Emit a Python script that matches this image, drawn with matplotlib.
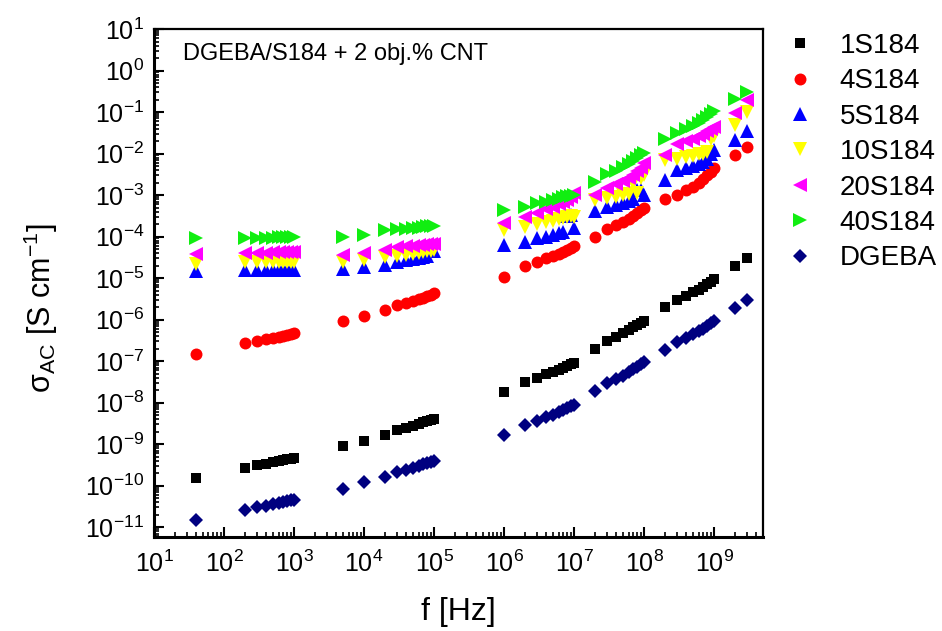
import matplotlib
matplotlib.use('Agg')
import matplotlib.pyplot as plt
from matplotlib.ticker import LogLocator, NullFormatter

plt.rcParams['font.family'] = ['Liberation Sans', 'DejaVu Sans']
plt.rcParams['mathtext.fontset'] = 'custom'
plt.rcParams['mathtext.rm'] = 'Liberation Sans'
plt.rcParams['mathtext.it'] = 'Liberation Sans:italic'

# Frequencies [Hz]
freq = [40, 200, 300, 400, 500, 600, 700, 800, 900, 1e3,
        5e3, 1e4,
        2e4, 3e4, 4e4, 5e4, 6e4, 7e4, 8e4, 9e4, 1e5,
        1e6, 2e6, 3e6, 4e6, 5e6, 6e6, 7e6, 8e6, 9e6, 1e7,
        2e7, 3e7, 4e7, 5e7, 6e7, 7e7, 8e7, 9e7, 1e8,
        2e8, 3e8, 4e8, 5e8, 6e8, 7e8, 8e8, 9e8, 1e9,
        2e9, 3e9]

# sigma_AC [S/cm]
s1 = [1.5e-10, 2.6e-10, 3.1e-10, 3.4e-10, 3.7e-10, 3.9e-10, 4.1e-10, 4.3e-10, 4.5e-10, 4.7e-10,
      9.0e-10, 1.2e-9,
      1.65e-9, 2.2e-9, 2.5e-9, 2.8e-9, 3.1e-9, 3.4e-9, 3.7e-9, 3.9e-9, 4.1e-9,
      1.8e-8, 3.2e-8, 4.0e-8, 4.8e-8, 5.5e-8, 6.2e-8, 7.0e-8, 7.7e-8, 8.4e-8, 9.0e-8,
      2.0e-7, 3.1e-7, 3.9e-7, 4.7e-7, 5.5e-7, 6.5e-7, 7.5e-7, 8.5e-7, 9.5e-7,
      2.0e-6, 3.0e-6, 3.7e-6, 4.5e-6, 5.3e-6, 6.2e-6, 7.2e-6, 8.2e-6, 9.5e-6,
      2.0e-5, 3.0e-5]
s4 = [1.5e-7, 2.7e-7, 3.1e-7, 3.4e-7, 3.7e-7, 3.9e-7, 4.1e-7, 4.3e-7, 4.5e-7, 4.7e-7,
      9.3e-7, 1.2e-6,
      1.7e-6, 2.2e-6, 2.5e-6, 2.8e-6, 3.1e-6, 3.4e-6, 3.7e-6, 4.0e-6, 4.3e-6,
      1.05e-5, 2.0e-5, 2.5e-5, 3.0e-5, 3.4e-5, 3.8e-5, 4.3e-5, 4.8e-5, 5.3e-5, 6.0e-5,
      1.0e-4, 1.5e-4, 1.9e-4, 2.3e-4, 2.7e-4, 3.2e-4, 3.8e-4, 4.4e-4, 5.0e-4,
      8.0e-4, 1.0e-3, 1.3e-3, 1.6e-3, 2.0e-3, 2.5e-3, 3.0e-3, 3.6e-3, 4.4e-3,
      9.0e-3, 1.45e-2]
s5 = [1.5e-5, 1.6e-5, 1.6e-5, 1.6e-5, 1.6e-5, 1.6e-5, 1.6e-5, 1.6e-5, 1.6e-5, 1.6e-5,
      1.7e-5, 1.85e-5,
      2.1e-5, 2.5e-5, 2.7e-5, 2.9e-5, 3.1e-5, 3.3e-5, 3.5e-5, 4.4e-5, 4.6e-5,
      6.3e-5, 7.6e-5, 9.0e-5, 1.0e-4, 1.1e-4, 1.2e-4, 1.3e-4, 3.2e-4, 3.4e-4, 1.6e-4,
      4.2e-4, 5.2e-4, 5.9e-4, 6.5e-4, 7.2e-4, 8.0e-4, 1.3e-3, 1.35e-3, 1.0e-3,
      2.3e-3, 4.0e-3, 4.5e-3, 5.0e-3, 5.6e-3, 6.3e-3, 7.2e-3, 9.5e-3, 1.2e-2,
      2.1e-2, 3.4e-2]
s10 = [2.2e-5, 2.4e-5, 2.5e-5, 2.5e-5, 2.5e-5, 2.5e-5, 2.5e-5, 2.5e-5, 2.5e-5, 2.5e-5,
       2.5e-5, 2.7e-5,
       3.2e-5, 3.5e-5, 3.7e-5, 3.9e-5, 4.1e-5, 4.3e-5, 4.5e-5, 4.6e-5, 4.7e-5,
       1.45e-4, 1.7e-4, 2.0e-4, 2.2e-4, 2.4e-4, 2.6e-4, 2.8e-4, 3.0e-4, 3.2e-4, 3.0e-4,
       7.6e-4, 8.3e-4, 9.0e-4, 9.8e-4, 1.05e-3, 2.0e-3, 1.15e-3, 2.6e-3, 3.0e-3,
       7.0e-3, 7.6e-3, 8.2e-3, 8.8e-3, 9.5e-3, 1.0e-2, 1.1e-2, 2.2e-2, 2.6e-2,
       4.9e-2, 1.0e-1]
s20 = [3.9e-5, 4.0e-5, 4.1e-5, 4.1e-5, 4.2e-5, 4.2e-5, 4.2e-5, 4.3e-5, 4.3e-5, 4.3e-5,
       3.7e-5, 4.0e-5,
       4.7e-5, 5.6e-5, 5.8e-5, 6.0e-5, 6.2e-5, 6.4e-5, 6.5e-5, 6.6e-5, 6.7e-5,
       2.1e-4, 3.0e-4, 3.8e-4, 4.5e-4, 5.2e-4, 6.0e-4, 6.8e-4, 7.8e-4, 9.0e-4, 1.1e-3,
       1.0e-3, 1.5e-3, 1.8e-3, 2.2e-3, 2.6e-3, 3.1e-3, 3.7e-3, 4.4e-3, 5.8e-3,
       9.0e-3, 1.7e-2, 2.0e-2, 2.3e-2, 2.6e-2, 3.0e-2, 3.4e-2, 3.8e-2, 4.4e-2,
       9.3e-2, 1.9e-1]
s40 = [9.3e-5, 9.3e-5, 9.4e-5, 9.5e-5, 9.5e-5, 9.6e-5, 9.6e-5, 9.7e-5, 9.7e-5, 9.8e-5,
       1.0e-4, 1.1e-4,
       1.45e-4, 1.5e-4, 1.55e-4, 1.6e-4, 1.65e-4, 1.7e-4, 1.75e-4, 1.8e-4, 1.8e-4,
       4.4e-4, 5.2e-4, 6.5e-4, 7.0e-4, 7.6e-4, 8.2e-4, 8.8e-4, 9.3e-4, 9.7e-4, 1.0e-3,
       2.1e-3, 3.2e-3, 3.9e-3, 4.7e-3, 5.6e-3, 6.6e-3, 7.8e-3, 9.0e-3, 1.05e-2,
       2.2e-2, 3.1e-2, 3.8e-2, 4.6e-2, 5.5e-2, 6.5e-2, 7.7e-2, 9.0e-2, 1.05e-1,
       2.1e-1, 3.0e-1]
dgeba = [1.5e-11, 2.6e-11, 3.0e-11, 3.3e-11, 3.6e-11, 3.8e-11, 4.0e-11, 4.2e-11, 4.4e-11, 4.6e-11,
         8.5e-11, 1.2e-10,
         1.6e-10, 2.1e-10, 2.4e-10, 2.7e-10, 3.0e-10, 3.3e-10, 3.6e-10, 3.8e-10, 4.0e-10,
         1.7e-9, 2.9e-9, 3.6e-9, 4.4e-9, 5.1e-9, 5.8e-9, 6.6e-9, 7.4e-9, 8.2e-9, 9.0e-9,
         1.95e-8, 2.9e-8, 3.7e-8, 4.5e-8, 5.4e-8, 6.3e-8, 7.3e-8, 8.4e-8, 9.5e-8,
         1.9e-7, 2.9e-7, 3.6e-7, 4.4e-7, 5.2e-7, 6.1e-7, 7.0e-7, 8.1e-7, 9.3e-7,
         1.95e-6, 3.0e-6]

x_major = [10.0 ** k for k in range(1, 10)]
y_major = [10.0 ** k for k in range(-11, 2)]

series = [
    ('1S184', s1, 's', 'black', 7.5),
    ('4S184', s4, 'o', '#ff0000', 8.6),
    ('5S184', s5, '^', '#0000ff', 10),
    ('10S184', s10, 'v', '#ffff00', 10),
    ('20S184', s20, '<', '#ff00ff', 10),
    ('40S184', s40, '>', '#11ee11', 10),
    ('DGEBA', dgeba, 'D', '#000080', 7.4),
]

fig = plt.figure(figsize=(9.42, 6.31), dpi=100)
ax = fig.add_axes([0.1635, 0.149, 0.6465, 0.805])

for name, vals, mk, col, ms in series:
    ax.plot(freq, vals, linestyle='none', marker=mk, color=col,
            markersize=ms, markeredgewidth=0, label=name)

ax.set_xscale('log')
ax.set_yscale('log')
ax.set_xticks(x_major)
ax.set_yticks(y_major)
ax.set_xlim(10, 5e9)
ax.set_ylim(5.8e-12, 10)

ax.xaxis.set_minor_locator(LogLocator(base=10, subs=range(2, 10), numticks=20))
ax.yaxis.set_minor_locator(LogLocator(base=10, subs=range(2, 10), numticks=20))
ax.xaxis.set_minor_formatter(NullFormatter())
ax.yaxis.set_minor_formatter(NullFormatter())

ax.tick_params(which='both', direction='in', top=False, right=False, labelsize=18)
ax.tick_params(which='major', length=7, width=1.5)
ax.tick_params(which='minor', length=3.5, width=1.2)
ax.tick_params(axis='x', which='major', pad=10)
ax.tick_params(axis='y', which='major', pad=7)

for side in ['left', 'bottom']:
    ax.spines[side].set_linewidth(2.2)
for side in ['top', 'right']:
    ax.spines[side].set_linewidth(1.6)

ax.set_xlabel('f [Hz]', fontsize=23)
ax.xaxis.set_label_coords(0.5, -0.118)
ax.set_ylabel(r'σ$_{\mathrm{AC}}$ [S cm$^{-1}$]', fontsize=22)
ax.yaxis.set_label_coords(-0.155, 0.45)

ax.text(0.048, 0.951, 'DGEBA/S184 + 2 obj.% CNT', transform=ax.transAxes,
        fontsize=17, ha='left', va='center')

ax.legend(loc='upper left', bbox_to_anchor=(0.834, 0.948), bbox_transform=fig.transFigure,
          frameon=False, fontsize=20, numpoints=1, handlelength=1.0,
          handletextpad=0.95, labelspacing=0.34, borderpad=0, borderaxespad=0)

fig.savefig('out.png', dpi=100)
